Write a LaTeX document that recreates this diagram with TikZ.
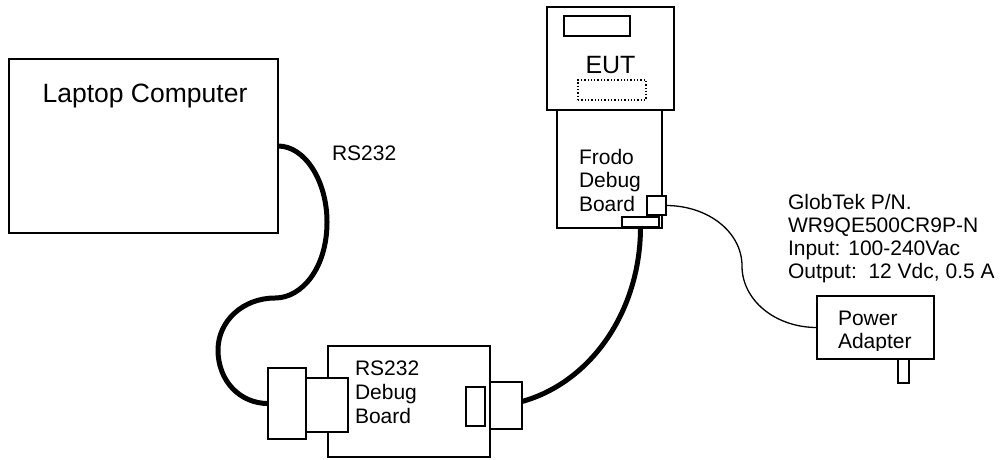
\documentclass[tikz,border=0pt]{standalone}
\usepackage{fontspec}
\setmainfont{Liberation Sans}
\begin{document}
\begin{tikzpicture}[x=1pt,y=-1pt,
  box/.style={draw=black,line width=2pt,fill=white,inner sep=0pt,outer sep=0pt},
  lbl/.style={inner sep=0pt,outer sep=0pt,align=left,font=\fontsize{21}{23.5}\selectfont},
  thickcable/.style={line width=5pt},
  thincable/.style={line width=1.3pt}]
\useasboundingbox (0,0) rectangle (1000,459);
% cable end points
\path (278,146) coordinate (lapport);
\path (268,403.5) coordinate (lportin);
\path (640.5,227) coordinate (fbarport);
\path (485,406.5) coordinate (rinport);
\path (666,205.5) coordinate (jackport);
\path (817,327.5) coordinate (adport);
% cables first
\draw[thickcable] (lapport) .. controls (305,146) and (327,181) .. (327,222)
  .. controls (327,268) and (302,298) .. (275,298)
  .. controls (243,298) and (218,321) .. (218,350)
  .. controls (218,381) and (240,403.5) .. (lportin);
\draw[thickcable] (fbarport) .. controls (640.5,326) and (572,406.5) .. (rinport);
\draw[thincable] (jackport) .. controls (708,205.5) and (742,232) .. (742,266)
  .. controls (742,300) and (775,327.5) .. (adport);
% laptop
\node[box,minimum width=269pt,minimum height=174pt] (laptop) at (143.5,146) {};
\node[inner sep=0pt,anchor=base,font=\fontsize{26.5}{30}\selectfont] (laptoptext) at (145,102) {Laptop Computer};
\node[lbl,anchor=base west] (rslabel) at (332,160) {RS232};
% EUT
\node[box,minimum width=105pt,minimum height=118pt] (frodo) at (609.5,169) {};
\node[box,minimum width=127pt,minimum height=103pt] (eut) at (610.5,58.5) {};
\node[box,minimum width=66pt,minimum height=20pt] (screen) at (597,26) {};
\node[draw=black,line width=1.3pt,dotted,inner sep=0pt,minimum width=68pt,minimum height=20pt] (window) at (612,90) {};
\node[inner sep=0pt,anchor=base,font=\fontsize{25}{29}\selectfont] (euttext) at (610.5,73) {EUT};
\node[lbl,anchor=north west] (frodotext) at (579,149) {Frodo\\Debug\\Board};
\node[box,minimum width=19pt,minimum height=19pt] (jack) at (656.5,205.5) {};
\node[box,minimum width=37pt,minimum height=10pt] (fbar) at (640.5,222) {};
% RS232 debug board
\node[box,minimum width=162pt,minimum height=111pt] (rsboard) at (409,401.5) {};
\node[box,minimum width=42pt,minimum height=54pt] (lin) at (327,405) {};
\node[box,minimum width=38pt,minimum height=71pt] (lout) at (287,403.5) {};
\node[box,minimum width=32pt,minimum height=47pt] (rout) at (506,405.5) {};
\node[box,minimum width=19pt,minimum height=39pt] (rin) at (475.5,406.5) {};
\node[lbl,anchor=north west,font=\fontsize{21}{24}\selectfont] (rstext) at (355,361) {RS232\\Debug\\Board};
% power adapter
\node[box,minimum width=117pt,minimum height=63pt] (adapter) at (875.5,327.5) {};
\node[box,minimum width=11pt,minimum height=24pt] (plug) at (903.5,371) {};
\begin{scope}
\clip (818,297) rectangle (933,350);
\node[lbl,anchor=north west,font=\fontsize{21}{23}\selectfont] (adtext) at (838,311) {Power\\Adapter};
\end{scope}
\node[lbl,anchor=north west,font=\fontsize{21}{23}\selectfont] (globtek) at (788,194) {GlobTek P/N.\\WR9QE500CR9P-N\\Input: 100-240Vac\\Output:\ \ 12 Vdc, 0.5 A};
\end{tikzpicture}
\end{document}
